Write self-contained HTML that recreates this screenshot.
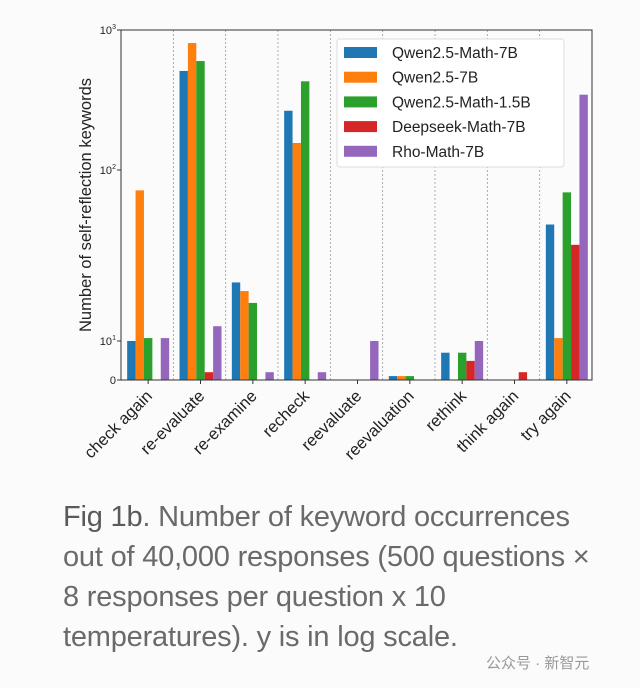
<!DOCTYPE html>
<html><head><meta charset="utf-8"><style>
body{margin:0;background:#fbfbfc;}
svg{display:block}
.cap{position:absolute;left:63px;top:497px;white-space:nowrap;font-family:"Liberation Sans","DejaVu Sans",sans-serif;font-size:29px;line-height:40px;color:#6a6a6a;letter-spacing:-0.2px}
</style></head><body>
<div style="position:relative;width:640px;height:688px;overflow:hidden">
<svg id="chart" width="640" height="688" font-family="Liberation Sans, DejaVu Sans, sans-serif"></svg>
<div class="cap"><span style="color:#5a5a5a">Fig 1b</span>. Number of keyword occurrences<br>out of 40,000 responses (500 questions ×<br>8 responses per question x 10<br>temperatures). y is in log scale.</div>
<div style="position:absolute;left:486px;top:652px;font-family:'Liberation Sans','Noto Sans CJK SC',sans-serif;font-size:15px;color:#999">公众号 · 新智元</div>
</div>
<script>
const categories=["check again","re-evaluate","re-examine","recheck","reevaluate","reevaluation","rethink","think again","try again"];
const seriesNames=["Qwen2.5-Math-7B","Qwen2.5-7B","Qwen2.5-Math-1.5B","Deepseek-Math-7B","Rho-Math-7B"];
const colors=["#1f77b4","#ff7f0e","#2ca02c","#d62728","#9467bd"];
const qwenMath7b=[10,510,22,265,0,1,7,0,48];
const qwen7b=[76,807,19.6,156,0,1,0,0,10.4];
const qwenMath15b=[10.4,600,16.7,430,0,1,7,0,74];
const deepseek=[0,2,0,0,0,0,4.9,2,36.5];
const rho=[10.4,12.2,2,2,10,0,10,0,345];
const series=[qwenMath7b,qwen7b,qwenMath15b,deepseek,rho];
const yTicks=[0,10,100,1000];
const yTickLabels=["0","10","10","10"];
const yTickExp=["","1","2","3"];

const L=121,R=592,T=30,B=380;
const NS="http://www.w3.org/2000/svg";
const svg=document.getElementById('chart');
function el(t,a,p){const e=document.createElementNS(NS,t);for(const k in a)e.setAttribute(k,a[k]);(p||svg).appendChild(e);return e;}
function y(v){ if(v<=10) return B-(v/10)*39;
  const l=Math.log10(v);
  if(l<=2) return 341-(l-1)*171;
  return 170-(l-2)*140;}
const step=(R-L)/categories.length;
function xc(i){return L+step*(i+0.5)+1;}
const bw=8.4;
for(let i=1;i<categories.length;i++){
  const sx=L+step*i;
  const d=el('line',{x1:sx,x2:sx,y1:T,y2:B,stroke:'#999','stroke-width':0.8,'stroke-dasharray':'2,2'});
  
  
}
series.forEach((s,si)=>{
  s.forEach((v,i)=>{
    if(v<=0)return;
    const x0=xc(i)-21+si*bw;
    const r=el('rect',{x:x0,y:y(v),width:bw,height:B-y(v),fill:colors[si]});
    
    
  });
});
const fr=el('rect',{x:L,y:T,width:R-L,height:B-T,fill:'none',stroke:'#333','stroke-width':1});


yTicks.forEach((v,i)=>{
  const yy=y(v);
  el('line',{x1:L-4,x2:L,y1:yy,y2:yy,stroke:'#333'});
  const t=el('text',{x:L-5-(yTickExp[i]?4:0),y:yy+4,'font-size':11,'text-anchor':'end',fill:'#222'});
  t.textContent=yTickLabels[i];
  
  
  if(yTickExp[i]){const e=el('text',{x:L-5,y:yy-1,'font-size':7,'text-anchor':'end',fill:'#222'});e.textContent=yTickExp[i];
    
    }
});
categories.forEach((c,i)=>{
  const x=xc(i);
  el('line',{x1:x,x2:x,y1:B,y2:B+4,stroke:'#333'});
  const t=el('text',{x:x+5,y:B+17,'font-size':16.5,'text-anchor':'end',fill:'#222',transform:`rotate(-45 ${x+5} ${B+17})`});
  t.textContent=c;
  
  
});
const yt=el('text',{x:91,y:205,'font-size':16.5,'text-anchor':'middle',fill:'#222',transform:'rotate(-90 91 205)'});
yt.textContent='Number of self-reflection keywords';


const lg=el('rect',{x:337,y:39,width:227,height:128,fill:'#fff',stroke:'#ddd',rx:3});


seriesNames.forEach((n,i)=>{
  const yy=52+i*24.7;
  const sw=el('rect',{x:344,y:yy-5,width:33,height:11,fill:colors[i]});
  
  
  const t=el('text',{x:392,y:yy+6,'font-size':15.5,fill:'#222'});
  t.textContent=n;
  
  
});
</script>
</body></html>
